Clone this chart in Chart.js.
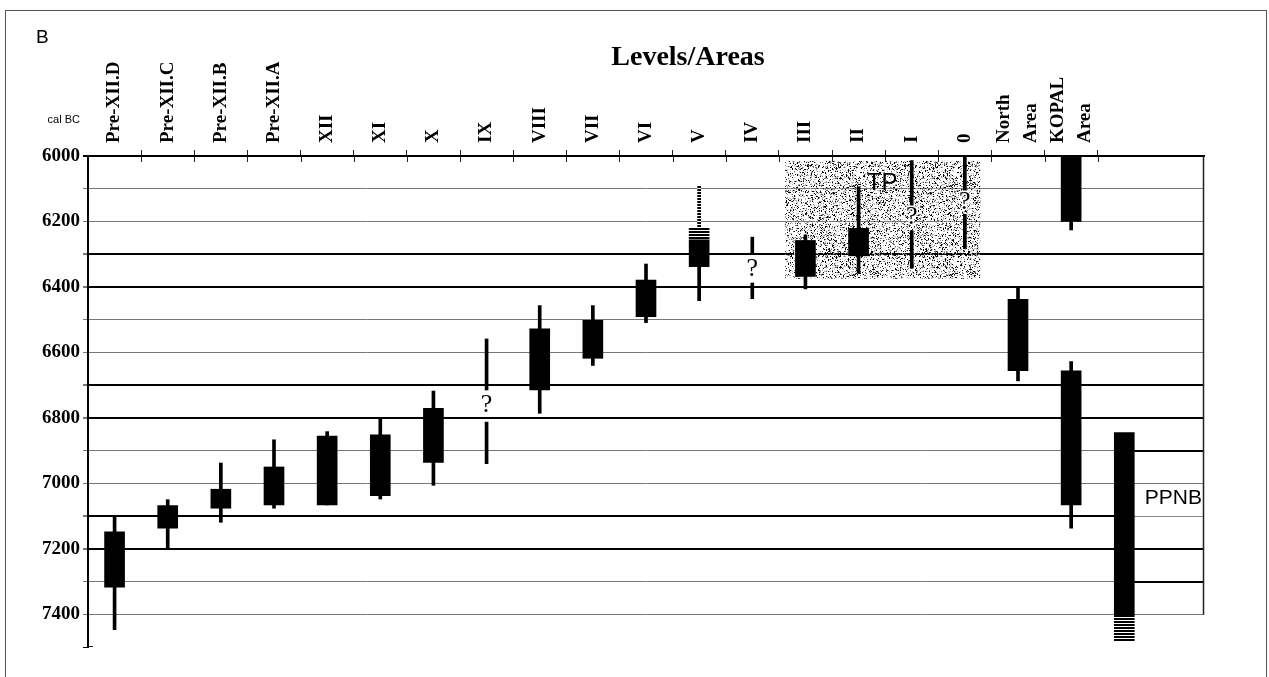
<!DOCTYPE html>
<html><head><meta charset="utf-8">
<script src="https://cdn.jsdelivr.net/npm/chart.js@4.4.0/dist/chart.umd.min.js"></script>
<style>html,body{margin:0;padding:0;background:#fff;overflow:hidden}canvas{display:block}</style>
</head><body>
<canvas id="c" width="1269" height="677"></canvas>
<script>
// ---- data (cal BC) ----
const categories = ['Pre-XII.D','Pre-XII.C','Pre-XII.B','Pre-XII.A','XII','XI','X','IX','VIII','VII','VI','V','IV','III','II','I','0',['North','Area'],['KOPAL','Area'],'',''];
const boxRange = [[7148,7317],[7068,7137],[7018,7076],[6950,7066],[6856,7066],[6852,7038],[6771,6936],null,[6528,6715],[6502,6618],[6379,6491],[6256,6338],null,[6258,6368],[6221,6305],null,null,[6438,6656],[6000,6200],[6845,7402],null];
const whiskerRange = [[7103,7447],[7050,7199],[6938,7119],[6867,7076],[6842,7066],[6801,7048],[6718,7006],[6559,6715],[6457,6786],[6457,6640],[6330,6509],[6256,6442],[6248,6297],[6241,6406],[6094,6358],[6014,6165],[6002,6112],[6402,6687],[6200,6226],null,null];
const secondBoxRange = [null,null,null,null,null,null,null,null,null,null,null,null,null,null,null,null,null,null,[6656,7066],null,null];
const secondWhiskerRange = [null,null,null,null,null,null,null,[6813,6940],null,null,null,null,[6388,6436],null,null,[6228,6343],[6178,6282],null,[6628,7137],null,null];
const dottedRange = [null,null,null,null,null,null,null,null,null,null,null,[6092,6216],null,null,null,null,null,null,null,null,null];
const hatchedRange = [null,null,null,null,null,null,null,null,null,null,null,[6218,6256],null,null,null,null,null,null,null,[7402,7483],null];
const questionMark = [null,null,null,null,null,null,null,6762,null,null,null,null,6345,null,null,6188,6140,null,null,null,null];
const yTickLabels = [6000,6200,6400,6600,6800,7000,7200,7400];
const thickGridValues = [6300,6400,6700,6800,7100,7200];
const tpSpan = ['III','0'];
const tpRange = [6015,6375];
const tpLabelValue = 6105;
const ppnbLines = [6900,7300];
const ppnbLabelValue = 7045;

// ---- patterns ----
const mainCtx = document.getElementById('c').getContext('2d');
function stripePattern(){
  const c=document.createElement('canvas'); c.width=4; c.height=3;
  const g=c.getContext('2d'); g.fillStyle='#fff'; g.fillRect(0,0,4,3);
  g.fillStyle='#000'; g.fillRect(0,0,4,2);
  return mainCtx.createPattern(c,'repeat');
}
function stipplePattern(){
  const w=97,h=89; const c=document.createElement('canvas'); c.width=w; c.height=h;
  const g=c.getContext('2d'); const img=g.createImageData(w,h);
  for(let y=0;y<h;y++)for(let x=0;x<w;x++){
    const s=Math.sin(x*12.9898+y*78.233)*43758.5453; const r=s-Math.floor(s);
    const i=(y*w+x)*4; let a=0,v=255;
    if(r<0.11){v=0;a=255;} else if(r<0.2){v=110;a=255;} else if(r<0.32){v=185;a=255;}
    img.data[i]=v;img.data[i+1]=v;img.data[i+2]=v;img.data[i+3]=a;
  }
  g.putImageData(img,0,0);
  return mainCtx.createPattern(c,'repeat');
}
const stripes = stripePattern();
const stipple = stipplePattern();

const serif = "'Liberation Serif','Times New Roman',serif";
const sans = "'Liberation Sans',Arial,sans-serif";
const xLabelSize = 19;
const twoLineSpacing = 27;            // px between the two lines of a stacked label
const xLabelShift = 2*twoLineSpacing*0.75; // compensates Chart.js rotated-label offset

const annotations = {
  id:'annotations',
  beforeDatasetsDraw(chart){
    const ctx=chart.ctx, xs=chart.scales.x, ys=chart.scales.y, ca=chart.chartArea;
    const slot = xs.getPixelForValue(1)-xs.getPixelForValue(0);
    const i0=categories.indexOf(tpSpan[0]), i1=categories.indexOf(tpSpan[1]);
    const l=xs.getPixelForValue(i0)-slot*0.38, r=xs.getPixelForValue(i1)+slot*0.29;
    const t=ys.getPixelForValue(tpRange[0]), b=ys.getPixelForValue(tpRange[1]);
    ctx.save(); ctx.fillStyle=stipple; ctx.fillRect(l,t,r-l,b-t); ctx.restore();
    const px=xs.getPixelForValue(19)+10;
    ctx.save();
    ctx.strokeStyle='#fff'; ctx.lineWidth=3;
    let yy=Math.round(ys.getPixelForValue(7100));
    ctx.beginPath(); ctx.moveTo(px,yy); ctx.lineTo(ca.right,yy); ctx.stroke();
    ctx.strokeStyle='#888'; ctx.lineWidth=1;
    ctx.beginPath(); ctx.moveTo(px,yy+0.5); ctx.lineTo(ca.right,yy+0.5); ctx.stroke();
    ctx.strokeStyle='#000'; ctx.lineWidth=2;
    ppnbLines.forEach(v=>{const y=Math.round(ys.getPixelForValue(v)); ctx.beginPath(); ctx.moveTo(px,y); ctx.lineTo(ca.right,y); ctx.stroke();});
    ctx.strokeStyle='#222'; ctx.lineWidth=1.5;
    ctx.beginPath(); ctx.moveTo(ca.right-0.5,ca.top); ctx.lineTo(ca.right-0.5,ys.getPixelForValue(7400)+0.5); ctx.stroke();
    ctx.restore();
  },
  afterDatasetsDraw(chart){
    const ctx=chart.ctx, xs=chart.scales.x, ys=chart.scales.y, ca=chart.chartArea;
    ctx.save();
    ctx.font="26px "+serif; ctx.textAlign='center'; ctx.textBaseline='middle';
    questionMark.forEach((v,i)=>{ if(v==null) return;
      const x=xs.getPixelForValue(i), y=ys.getPixelForValue(v);
      ctx.lineWidth=3; ctx.strokeStyle='#fff'; ctx.strokeText('?',x,y);
      ctx.fillStyle='#000'; ctx.fillText('?',x,y);
    });
    const iII=categories.indexOf('II'), iI=categories.indexOf('I');
    ctx.font="24px "+sans; ctx.textBaseline='alphabetic'; ctx.fillStyle='#000';
    ctx.fillText('TP',(xs.getPixelForValue(iII)+xs.getPixelForValue(iI))/2-3, ys.getPixelForValue(tpLabelValue));
    ctx.font="21px "+sans; ctx.textBaseline='middle';
    ctx.fillText('PPNB', xs.getPixelForValue(20)-4, ys.getPixelForValue(ppnbLabelValue));
    ctx.strokeStyle='#222'; ctx.lineWidth=1;
    for(let i=1;i<=19;i++){
      const x=Math.round((xs.getPixelForValue(i-1)+xs.getPixelForValue(i))/2)+0.5;
      ctx.beginPath(); ctx.moveTo(x,ca.top); ctx.lineTo(x,ca.top+6); ctx.stroke();
    }
    const yb=Math.round(ys.getPixelForValue(7500))-0.5;
    ctx.beginPath(); ctx.moveTo(ca.left,yb); ctx.lineTo(ca.left+5,yb); ctx.stroke();
    ctx.textAlign='left'; ctx.textBaseline='alphabetic';
    ctx.font="19px "+sans; ctx.fillText('B',36,43);
    ctx.font="11px "+sans; ctx.textAlign='right'; ctx.fillText('cal BC',80,123);
    ctx.font="bold 28px "+serif; ctx.textAlign='center'; ctx.fillText('Levels/Areas',688,65);
    ctx.strokeStyle='#555'; ctx.lineWidth=1;
    ctx.strokeRect(5.5,10.5,1261,670);
    ctx.restore();
  }
};

new Chart(document.getElementById('c'), {
  type:'bar',
  data:{
    labels:categories,
    datasets:[
      {label:'whisker', data:whiskerRange, backgroundColor:'#000', barThickness:3, grouped:false, order:5},
      {label:'whisker2', data:secondWhiskerRange, backgroundColor:'#000', barThickness:3, grouped:false, order:5},
      {label:'dotted', data:dottedRange, backgroundColor:stripes, barThickness:3, grouped:false, order:4},
      {label:'box', data:boxRange, backgroundColor:'#000', barThickness:20, grouped:false, order:1},
      {label:'box2', data:secondBoxRange, backgroundColor:'#000', barThickness:20, grouped:false, order:1},
      {label:'hatched', data:hatchedRange, backgroundColor:stripes, barThickness:20, grouped:false, order:1}
    ]
  },
  options:{
    responsive:false, animation:false, devicePixelRatio:1,
    layout:{padding:{left:0,top:0,right:65,bottom:30}},
    plugins:{legend:{display:false}, tooltip:{enabled:false}, title:{display:false}},
    scales:{
      x:{
        position:'top', offset:true,
        afterFit:s=>{s.height=156;},
        border:{display:true,color:'#000',width:2},
        grid:{offset:true, drawOnChartArea:false, drawTicks:true, tickLength:6,
          color:c=>(c.index>=1&&c.index<=19)?'#222':'rgba(0,0,0,0)', lineWidth:1},
        ticks:{autoSkip:false, minRotation:90, maxRotation:90, padding:7, color:'#000',
          labelOffset:xLabelShift,
          font:c=>({family:serif, size:xLabelSize, weight:'bold',
            lineHeight:(Array.isArray(categories[c.index])?twoLineSpacing:xLabelShift)+'px'})}
      },
      y:{
        reverse:true, min:6000, max:7500,
        afterFit:s=>{s.width=88;},
        border:{display:true,color:'#000',width:2},
        grid:{drawTicks:true, tickLength:5,
          color:c=>{const v=c.tick.value; if(v>=7500) return 'rgba(0,0,0,0)'; if(v===6000||thickGridValues.includes(v)) return '#000'; return '#777';},
          lineWidth:c=>{const v=c.tick.value; return (v===6000||thickGridValues.includes(v))?2:1;},
          tickColor:c=>{const v=c.tick.value; return (v===6000||v===7500)?'#000':'#777';}},
        ticks:{stepSize:100, padding:3, color:'#000', autoSkip:false,
          font:{family:serif, size:19, weight:'bold'},
          callback:v=>yTickLabels.includes(v)?String(v):''}
      }
    }
  },
  plugins:[annotations]
});
</script>
</body></html>
